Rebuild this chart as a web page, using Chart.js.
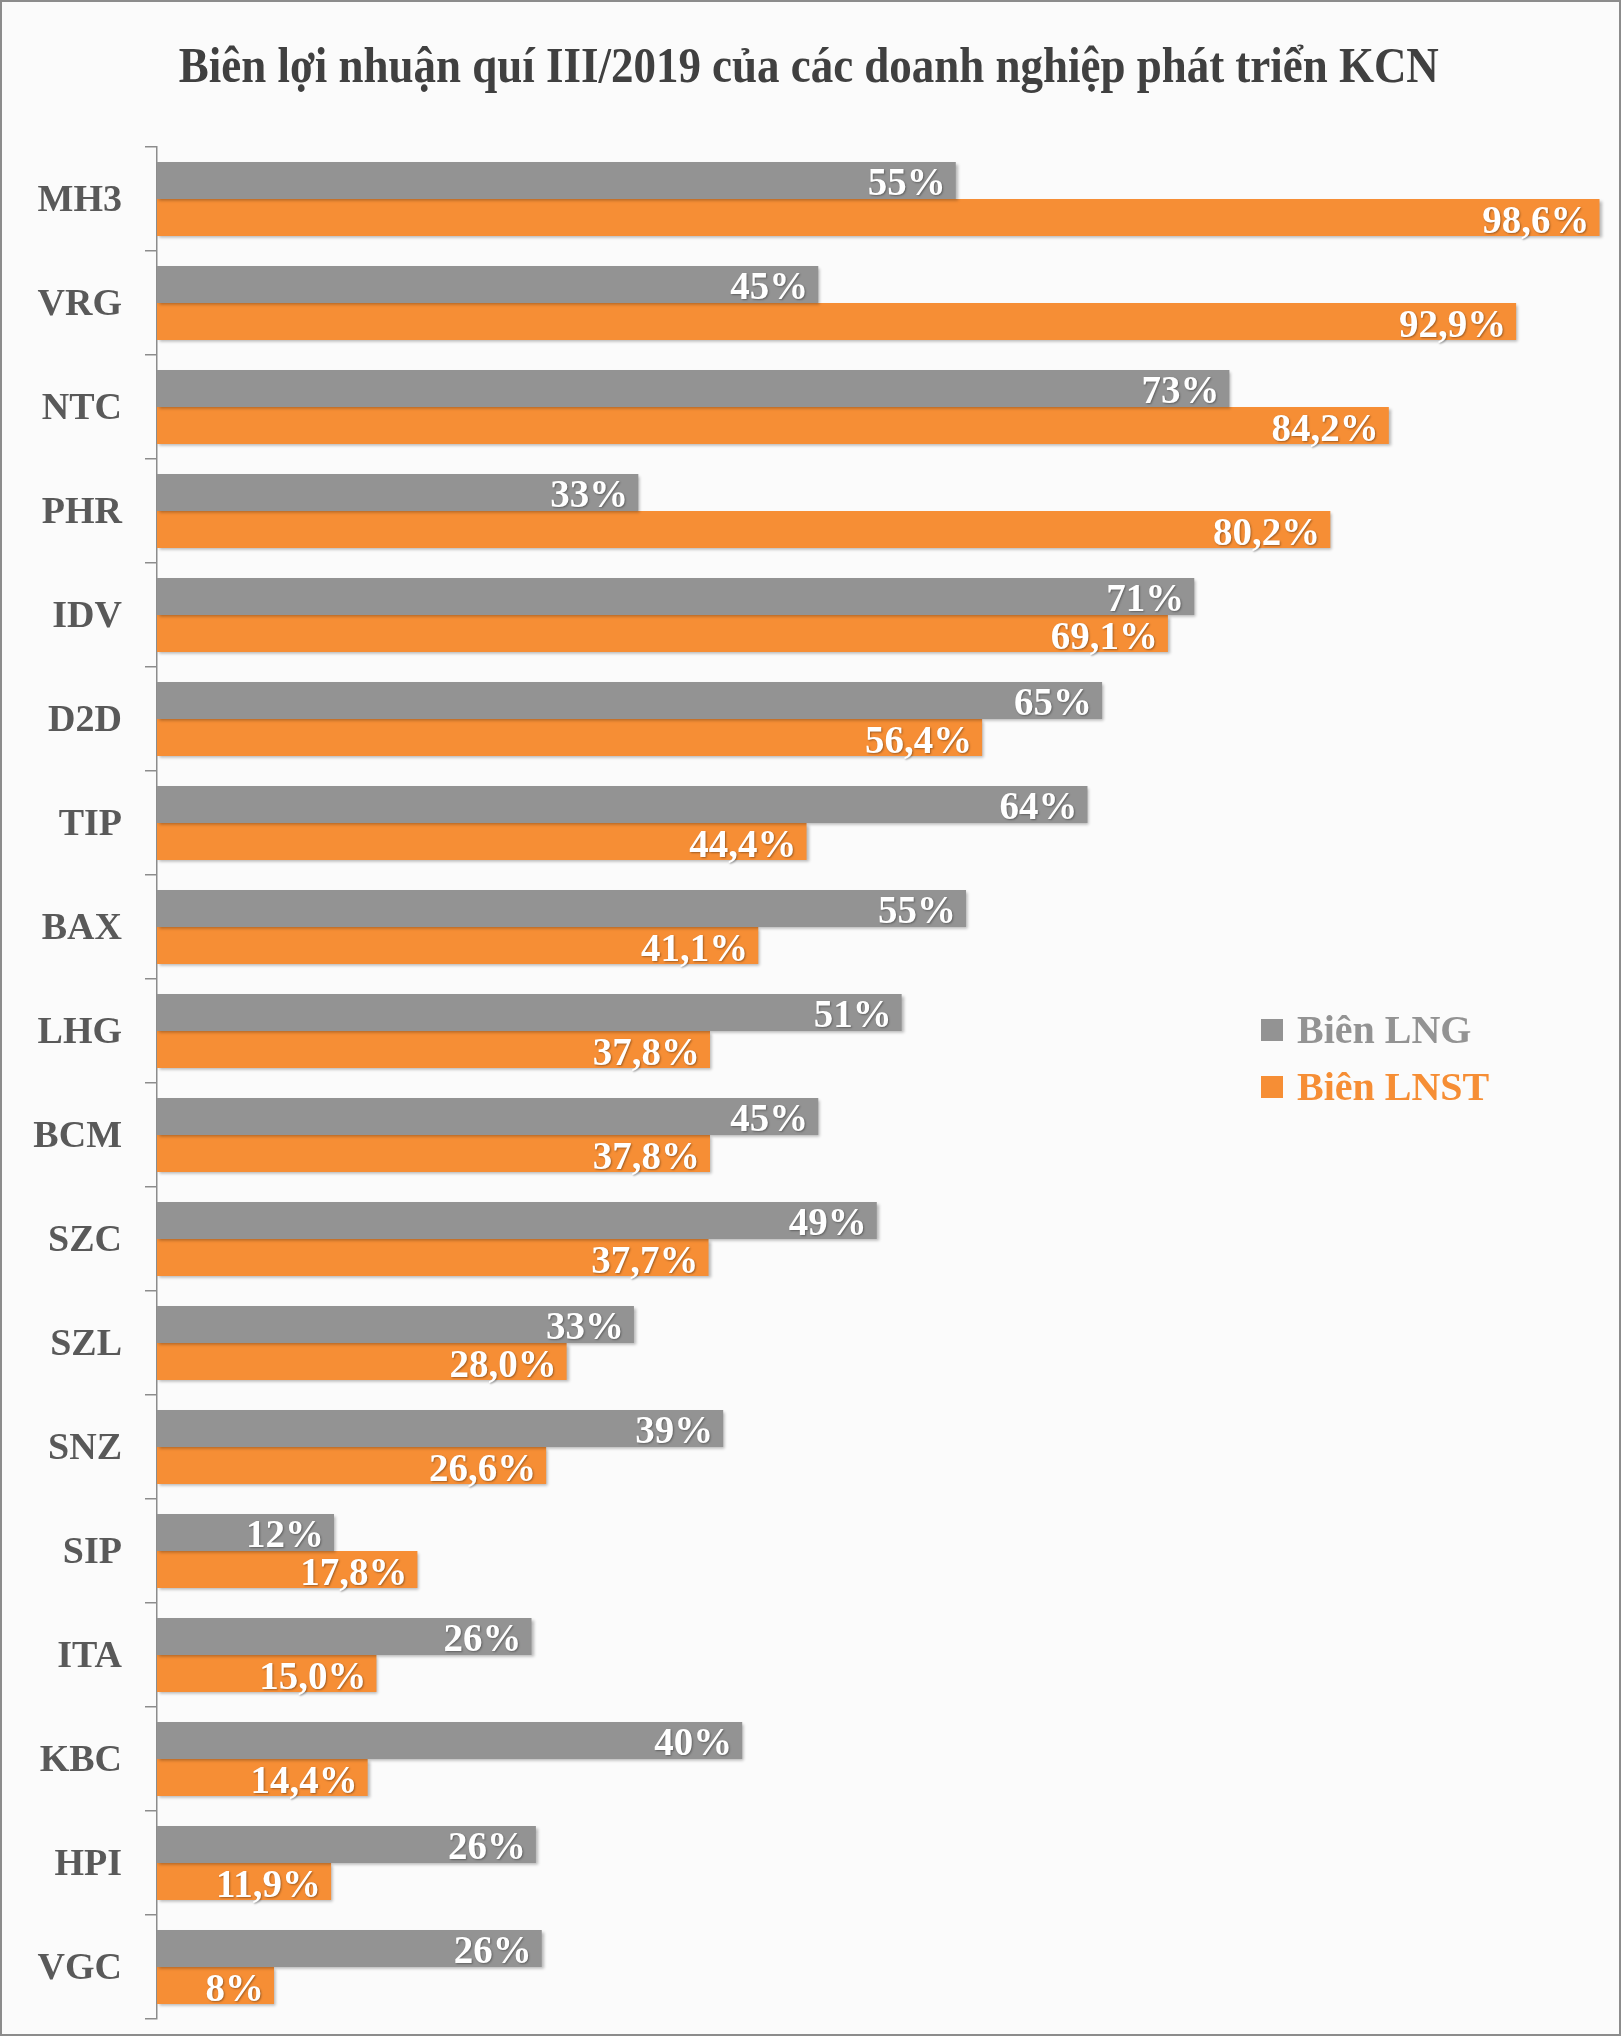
<!DOCTYPE html>
<html><head><meta charset="utf-8">
<script src="https://cdn.jsdelivr.net/npm/chart.js@4.4.1/dist/chart.umd.min.js"></script>
<style>
html,body{margin:0;padding:0;background:#fbfbfb;}
#wrap{position:relative;width:1621px;height:2036px;overflow:hidden;background:#fbfbfb;}
#frame{position:absolute;left:0;top:0;width:1621px;height:2036px;box-sizing:border-box;border:2px solid #8c8c8c;pointer-events:none;}
#title{position:absolute;top:40px;left:0;width:1618px;text-align:center;font-family:"Liberation Serif",serif;font-weight:bold;font-size:50px;color:#404040;line-height:50px;white-space:nowrap;}
#tt{display:inline-block;transform-origin:50% 50%;}
canvas{position:absolute;left:0;top:0;}
</style></head>
<body><div id="wrap"><canvas id="c" width="1621" height="2036"></canvas><div id="title"><span id="tt">Biên lợi nhuận quí III/2019 của các doanh nghiệp phát triển KCN</span></div><div id="frame"></div></div>
<script>
const categories = ['MH3','VRG','NTC','PHR','IDV','D2D','TIP','BAX','LHG','BCM','SZC','SZL','SNZ','SIP','ITA','KBC','HPI','VGC'];
const seriesNames = ['Biên LNG','Biên LNST'];
const lngValues = [54.6, 45.2, 73.3, 32.9, 70.9, 64.6, 63.6, 55.3, 50.9, 45.2, 49.2, 32.6, 38.7, 12.1, 25.6, 40.0, 25.9, 26.3];
const lnstValues = [98.6, 92.9, 84.2, 80.2, 69.1, 56.4, 44.4, 41.1, 37.8, 37.8, 37.7, 28.0, 26.6, 17.8, 15.0, 14.4, 11.9, 8];
const lnstLabels = ['98,6%','92,9%','84,2%','80,2%','69,1%','56,4%','44,4%','41,1%','37,8%','37,8%','37,7%','28,0%','26,6%','17,8%','15,0%','14,4%','11,9%','8%'];

const GRAY = '#939393', ORANGE = '#f68e35';
const FONT = '"Liberation Serif", serif';

const shadowPlugin = {
  id: 'barShadow',
  beforeDatasetsDraw(chart) {
    const c = chart.ctx; c.save();
    c.shadowColor = 'rgba(0,0,0,0.28)'; c.shadowOffsetX = 2; c.shadowOffsetY = 2; c.shadowBlur = 3;
  },
  afterDatasetsDraw(chart) { chart.ctx.restore(); }
};

const labelPlugin = {
  id: 'valueLabels',
  afterDatasetsDraw(chart) {
    const c = chart.ctx; c.save();
    c.font = 'bold 39px ' + FONT; c.fillStyle = '#ffffff'; c.textAlign = 'right'; c.textBaseline = 'alphabetic';
    c.shadowColor = 'rgba(0,0,0,0.35)'; c.shadowOffsetX = 1; c.shadowOffsetY = 1; c.shadowBlur = 2;
    chart.data.datasets.forEach((ds, i) => {
      chart.getDatasetMeta(i).data.forEach((bar, j) => {
        const t = i === 0 ? Math.round(lngValues[j]) + '%' : lnstLabels[j];
        c.fillText(t, bar.x - 10, bar.y + 15);
      });
    });
    c.restore();
  }
};

const legendPlugin = {
  id: 'insideLegend',
  afterDraw(chart) {
    const c = chart.ctx; c.save();
    c.font = 'bold 40px ' + FONT; c.textAlign = 'left'; c.textBaseline = 'alphabetic';
    const cols = [GRAY, ORANGE];
    seriesNames.forEach((n, i) => {
      const y = 1019 + i * 57;
      c.fillStyle = cols[i];
      c.fillRect(1261, y, 22, 22);
      c.fillText(n, 1297, y + 24);
    });
    c.restore();
  }
};

function draw() {
  const span = document.getElementById('tt');
  const w = span.getBoundingClientRect().width;
  span.style.transform = 'scaleX(' + (1260 / w) + ')';

  new Chart(document.getElementById('c'), {
    type: 'bar',
    data: {
      labels: categories,
      datasets: [
        { label: seriesNames[0], data: lngValues, backgroundColor: GRAY, barPercentage: 1, categoryPercentage: 0.712 },
        { label: seriesNames[1], data: lnstValues, backgroundColor: ORANGE, barPercentage: 1, categoryPercentage: 0.712 }
      ]
    },
    options: {
      indexAxis: 'y', responsive: false, animation: false, devicePixelRatio: 1,
      layout: { padding: { top: 147, bottom: 17, left: 0, right: 1 } },
      scales: {
        x: { display: false, min: 0, max: 100 },
        y: {
          position: 'left',
          afterFit(s) { s.width = 157; s.paddingTop = 0; s.paddingBottom = 0; },
          grid: { offset: true, drawOnChartArea: false, drawTicks: true, tickLength: 12, color: '#8c8c8c', lineWidth: 1.5 },
          border: { display: true, color: '#8c8c8c', width: 1.5 },
          ticks: { font: { family: FONT, size: 38, weight: 'bold' }, color: '#595959', padding: 23, labelOffset: 2 }
        }
      },
      plugins: { legend: { display: false }, tooltip: { enabled: false }, title: { display: false } }
    },
    plugins: [shadowPlugin, labelPlugin, legendPlugin]
  });
}

Promise.all([
  document.fonts.load('bold 39px "Liberation Serif"'),
  document.fonts.load('bold 50px "Liberation Serif"')
]).then(draw, draw);
</script>
</body></html>
